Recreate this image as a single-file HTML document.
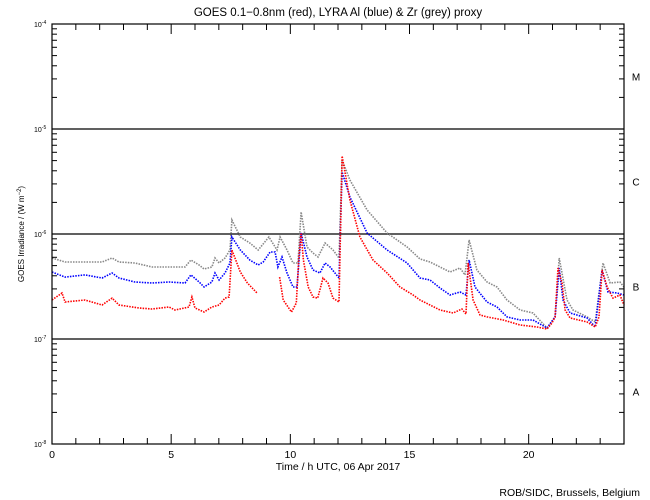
<!DOCTYPE html>
<html><head><meta charset="utf-8">
<style>
body{margin:0;background:#fff;}
svg{display:block;font-family:"Liberation Sans","DejaVu Sans",sans-serif;}
</style></head>
<body>
<svg id="chart" width="650" height="500" viewBox="0 0 650 500">
<rect x="0" y="0" width="650" height="500" fill="#fff"/>
<text x="338" y="16" font-size="11.5" text-anchor="middle">GOES 0.1−0.8nm (red), LYRA Al (blue) &amp; Zr (grey) proxy</text>
<text transform="translate(24,234) rotate(-90)" font-size="8" text-anchor="middle">GOES Irradiance / (W m<tspan dy="-3" font-size="6">−2</tspan><tspan dy="3">)</tspan></text>
<text x="338" y="470" font-size="10.5" text-anchor="middle">Time / h UTC, 06 Apr 2017</text>
<text x="640" y="496" font-size="10.5" text-anchor="end">ROB/SIDC, Brussels, Belgium</text>
<g id="grid"></g>
<g id="series"></g>
<g id="axes"></g>
</svg>
<script>
const NS='http://www.w3.org/2000/svg';
const X0=52,X1=624,Y0=24,Y1=444;
const hourTicks=[0,5,10,15,20];
const decadeExps=[-4,-5,-6,-7,-8];
const flareClasses=['M','C','B','A'];
const flareClassExps=[-4.5,-5.5,-6.5,-7.5];
const classLineExps=[-5,-6,-7];

const redHours=[0,0.42,0.55,1.38,2.10,2.52,2.81,3.65,4.20,4.91,5.16,5.75,5.87,6.0,6.38,6.71,7.01,7.26,7.43,7.55,7.9,8.2,8.6,null,9.55,9.7,10.05,10.25,10.35,10.45,10.55,10.75,10.95,11.15,11.37,11.58,11.79,12.04,12.17,12.5,12.92,13.47,14.06,14.6,15.15,15.44,15.86,16.28,16.83,17.2,17.37,17.46,17.67,17.96,18.25,18.93,19.64,20.35,20.77,20.98,21.11,21.23,21.40,21.53,21.74,22.45,22.79,22.95,23.08,23.29,23.54,23.83,24];
const redLog=[-6.629,-6.562,-6.648,-6.629,-6.676,-6.610,-6.676,-6.705,-6.714,-6.695,-6.724,-6.695,-6.600,-6.705,-6.743,-6.695,-6.676,-6.610,-6.600,-6.152,-6.362,-6.467,-6.562,null,-6.410,-6.629,-6.743,-6.657,-6.248,-5.990,-6.248,-6.505,-6.600,-6.610,-6.419,-6.467,-6.610,-6.648,-5.257,-5.676,-6.029,-6.248,-6.371,-6.505,-6.581,-6.629,-6.676,-6.724,-6.752,-6.714,-6.762,-6.276,-6.629,-6.771,-6.790,-6.819,-6.867,-6.886,-6.905,-6.848,-6.790,-6.324,-6.467,-6.724,-6.800,-6.838,-6.886,-6.790,-6.343,-6.505,-6.610,-6.581,-6.676];

const blueHours=[0,0.55,1.38,2.10,2.52,2.81,3.48,4.20,4.91,5.58,5.83,6.17,6.38,6.71,6.84,7.01,7.26,7.47,7.55,7.9,8.3,8.65,8.86,9.15,9.36,9.48,9.65,9.86,10.11,10.28,10.45,10.7,10.95,11.24,11.46,11.67,12.04,12.17,12.5,13.22,14.06,14.9,15.44,15.86,16.28,16.70,17.12,17.37,17.5,17.75,18.25,18.67,19.09,19.64,20.18,20.77,21.11,21.28,21.44,21.74,22.45,22.79,23.08,23.33,23.71,24];
const blueLog=[-6.362,-6.410,-6.390,-6.419,-6.371,-6.419,-6.457,-6.467,-6.457,-6.467,-6.390,-6.457,-6.505,-6.457,-6.371,-6.438,-6.371,-6.276,-6.029,-6.152,-6.248,-6.295,-6.267,-6.171,-6.171,-6.314,-6.219,-6.371,-6.505,-6.505,-5.990,-6.219,-6.343,-6.371,-6.276,-6.314,-6.419,-5.410,-5.648,-5.990,-6.152,-6.276,-6.419,-6.438,-6.514,-6.581,-6.552,-6.581,-6.248,-6.505,-6.648,-6.695,-6.790,-6.819,-6.819,-6.895,-6.790,-6.324,-6.629,-6.752,-6.800,-6.886,-6.343,-6.552,-6.562,-6.581];

const greyHours=[0,0.55,1.38,2.10,2.52,2.81,3.48,4.20,4.91,5.58,5.83,6.17,6.38,6.71,6.84,7.01,7.26,7.47,7.55,7.9,8.3,8.65,9.1,9.44,9.57,9.86,10.11,10.32,10.45,10.7,10.95,11.16,11.46,11.79,12.04,12.17,12.5,13.22,14.06,14.9,15.44,15.86,16.28,16.70,17.12,17.33,17.5,17.83,18.25,18.67,19.09,19.64,20.18,20.77,21.11,21.28,21.61,21.86,22.45,22.79,23.12,23.42,23.83,24];
const greyLog=[-6.229,-6.267,-6.267,-6.267,-6.229,-6.267,-6.276,-6.314,-6.314,-6.314,-6.248,-6.295,-6.333,-6.314,-6.229,-6.276,-6.229,-6.152,-5.867,-6.029,-6.086,-6.152,-6.029,-6.152,-6.029,-6.152,-6.276,-6.276,-5.790,-6.124,-6.181,-6.219,-6.086,-6.152,-6.229,-5.295,-5.486,-5.771,-5.990,-6.124,-6.238,-6.267,-6.314,-6.362,-6.324,-6.390,-6.057,-6.343,-6.457,-6.505,-6.629,-6.724,-6.752,-6.895,-6.790,-6.229,-6.629,-6.724,-6.790,-6.838,-6.276,-6.467,-6.457,-6.505];

function xs(h){return X0+(h/24)*(X1-X0);}
function ys(l){return Y0+(-4-l)/4*(Y1-Y0);}
function mk(tag,attrs,parent){const e=document.createElementNS(NS,tag);for(const k in attrs)e.setAttribute(k,attrs[k]);parent.appendChild(e);return e;}

const grid=document.getElementById('grid');
classLineExps.forEach(ex=>{
  const l=mk('line',{x1:X0,x2:X1,y1:ys(ex),y2:ys(ex),stroke:'#000','stroke-width':1.2},grid);
  
  
});

const ser=document.getElementById('series');
function drawSeries(hours,logs,color,name){
  let segs=[],cur=[];
  hours.forEach((h,i)=>{
    if(h===null||logs[i]===null){if(cur.length)segs.push(cur);cur=[];return;}
    cur.push(xs(h).toFixed(1)+','+ys(logs[i]).toFixed(1));
  });
  if(cur.length)segs.push(cur);
  segs.forEach(s=>{
    const p=mk('polyline',{points:s.join(' '),fill:'none',stroke:color,'stroke-width':1.6,'stroke-dasharray':'1.5 1.2'},ser);
    
    
  });
}
drawSeries(greyHours,greyLog,'#888','zr-proxy-series');
drawSeries(blueHours,blueLog,'#0000ff','al-proxy-series');
drawSeries(redHours,redLog,'#ff0000','goes-series');

const ax=document.getElementById('axes');
const frame=mk('rect',{x:X0,y:Y0,width:X1-X0,height:Y1-Y0,fill:'none',stroke:'#000','stroke-width':1.2},ax);


for(let h=0;h<=24;h++){
  const major=hourTicks.includes(h),len=major?10:6,x=xs(h);
  mk('line',{x1:x,x2:x,y1:Y1,y2:Y1-len,stroke:'#000'},ax);
  mk('line',{x1:x,x2:x,y1:Y0,y2:Y0+len,stroke:'#000'},ax);
}
hourTicks.forEach(h=>{
  const t=mk('text',{x:xs(h),y:Y1+14,'font-size':10.5,'text-anchor':'middle'},ax);
  t.textContent=h;
  
  
});
for(let d=-8;d<-4;d++){
  for(let m=2;m<=9;m++){
    const y=ys(d+Math.log10(m));
    mk('line',{x1:X0,x2:X0+5,y1:y,y2:y,stroke:'#000'},ax);
    mk('line',{x1:X1,x2:X1-5,y1:y,y2:y,stroke:'#000'},ax);
  }
}
decadeExps.forEach(ex=>{
  const y=ys(ex);
  mk('line',{x1:X0,x2:X0+10,y1:y,y2:y,stroke:'#000'},ax);
  mk('line',{x1:X1,x2:X1-10,y1:y,y2:y,stroke:'#000'},ax);
  const t=mk('text',{x:34,y:y+3,'font-size':7,'text-anchor':'start'},ax);
  t.innerHTML='10<tspan dy="-3" font-size="5">'+ex+'</tspan>';
  
  
});
flareClasses.forEach((c,i)=>{
  const t=mk('text',{x:636,y:ys(flareClassExps[i])+4,'font-size':10,'text-anchor':'middle'},ax);
  t.textContent=c;
  
  
});
</script>
</body></html>
